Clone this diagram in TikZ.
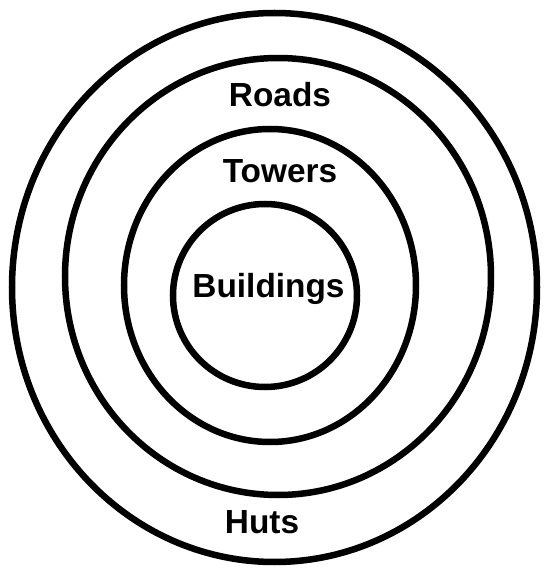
\documentclass[tikz,border=0pt]{standalone}
\usepackage{fontspec}
\setmainfont{Liberation Sans}
\usetikzlibrary{positioning}
\tikzset{
  ringline/.style={draw=black, line width=3.7pt},
  ringlabel/.style={anchor=base, font=\fontsize{19}{22}\selectfont\bfseries,
    text=black, inner sep=0pt},
}
\begin{document}
\begin{tikzpicture}[x=0.02cm, y=0.02cm]

% Canvas, same size as the reference.
\useasboundingbox (0, 0) rectangle (544, 569);

% Nested rings, outermost first.
\draw[ringline] (274.5, 281.5) ellipse [x radius=262.5, y radius=274.5];
\draw[ringline] (278, 292.5) ellipse [x radius=213, y radius=218.5];
\draw[ringline] (270, 283.5) ellipse [x radius=146, y radius=156.5];
\draw[ringline] (265, 273.5) ellipse [x radius=92, y radius=91.5];

% Ring labels.
\node[ringlabel] (roads) at (280, 462) {Roads};
\node[ringlabel] (towers) at (280, 386) {Towers};
\node[ringlabel] (buildings) at (268.5, 271) {Buildings};
\node[ringlabel] (huts) at (262, 35) {Huts};

\end{tikzpicture}
\end{document}
